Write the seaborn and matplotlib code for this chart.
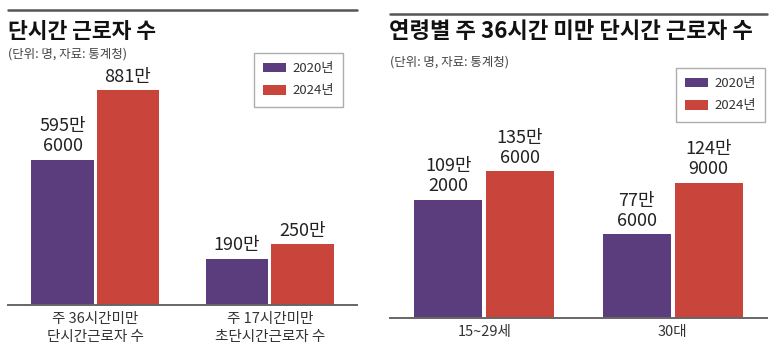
import matplotlib
matplotlib.use("Agg")
import matplotlib.pyplot as plt
import seaborn as sns
import pandas as pd
from matplotlib.lines import Line2D

# ---- data ----
left_categories = ["주 36시간미만\n단시간근로자 수", "주 17시간미만\n초단시간근로자 수"]
left_2020 = [595.6, 190]
left_2024 = [881, 250]
left_labels_2020 = ["595만\n6000", "190만"]
left_labels_2024 = ["881만", "250만"]

right_categories = ["15~29세", "30대"]
right_2020 = [109.2, 77.6]
right_2024 = [135.6, 124.9]
right_labels_2020 = ["109만\n2000", "77만\n6000"]
right_labels_2024 = ["135만\n6000", "124만\n9000"]

years = ["2020년", "2024년"]
colors = ["#5b3d7e", "#c9443a"]

left_title = "단시간 근로자 수"
right_title = "연령별 주 36시간 미만 단시간 근로자 수"
subtitle = "(단위: 명, 자료: 통계청)"

sns.set_theme(style="white")
plt.rcParams["font.family"] = ["Noto Sans CJK KR", "DejaVu Sans"]

W, H = 773, 354
fig = plt.figure(figsize=(W / 100, H / 100), dpi=100)
fig.patch.set_facecolor("white")


def px_axes(x0, y0, x1, y1):
    return fig.add_axes([x0 / W, 1 - y1 / H, (x1 - x0) / W, (y1 - y0) / H])


def make_df(cats, v20, v24):
    rows = []
    for c, a, b in zip(cats, v20, v24):
        rows.append({"cat": c, "year": years[0], "val": a})
        rows.append({"cat": c, "year": years[1], "val": b})
    return pd.DataFrame(rows)


def draw(ax, cats, v20, v24, lab20, lab24, ymax, width, gap, legend_anchor):
    df = make_df(cats, v20, v24)
    sns.barplot(data=df, x="cat", y="val", hue="year", palette=colors,
                width=width, gap=gap, ax=ax, saturation=1, legend=True,
                edgecolor="none")
    ax.set_xlim(-0.5, 1.5)
    ax.set_ylim(0, ymax)
    ax.set_xlabel("")
    ax.set_ylabel("")
    ax.set_yticks([])
    for s in ["left", "right", "top"]:
        ax.spines[s].set_visible(False)
    ax.spines["bottom"].set_color("#666666")
    ax.spines["bottom"].set_linewidth(1.4)
    ax.tick_params(axis="x", length=0, pad=5, labelsize=10.5, labelcolor="#333333")
    for lbl in ax.get_xticklabels():
        lbl.set_linespacing(1.35)
    for cont, labs in zip(ax.containers, [lab20, lab24]):
        ax.bar_label(cont, labels=labs, padding=3, fontsize=13,
                     color="#222222", linespacing=1.15)
    leg = ax.legend(loc="upper right", bbox_to_anchor=legend_anchor,
                    bbox_transform=fig.transFigure, frameon=True,
                    fancybox=False, fontsize=9.5, handlelength=1.7,
                    handleheight=0.75, labelspacing=0.7, borderpad=0.7,
                    borderaxespad=0, handletextpad=0.5, title=None)
    leg.get_frame().set_edgecolor("#999999")
    leg.get_frame().set_linewidth(1.0)
    for t in leg.get_texts():
        t.set_color("#333333")


# left panel
axL = px_axes(8, 60, 357, 305)
draw(axL, left_categories, left_2020, left_2024, left_labels_2020,
     left_labels_2024, 881 * 245 / 215, 0.75, 0.04, (343 / W, 1 - 53 / H))

# right panel
axR = px_axes(390, 80, 767, 318)
draw(axR, right_categories, right_2020, right_2024, right_labels_2020,
     right_labels_2024, 135.6 * 238 / 147, 0.76, 0.05, (765 / W, 1 - 68 / H))

# top rules
fig.add_artist(Line2D([8 / W, 357 / W], [1 - 10 / H, 1 - 10 / H], color="#555555", lw=1.8))
fig.add_artist(Line2D([390 / W, 767 / W], [1 - 14 / H, 1 - 14 / H], color="#555555", lw=1.8))

# titles
fig.text(8 / W, 1 - 31 / H, left_title, fontsize=15.5, fontweight="bold",
         color="#111111", va="center", ha="left")
fig.text(8 / W, 1 - 54 / H, subtitle, fontsize=9, color="#444444",
         va="center", ha="left")
fig.text(389 / W, 1 - 32 / H, right_title, fontsize=16, fontweight="bold",
         color="#111111", va="center", ha="left")
fig.text(390 / W, 1 - 62 / H, subtitle, fontsize=9, color="#444444",
         va="center", ha="left")

fig.savefig("out.png", dpi=100, facecolor="white")
